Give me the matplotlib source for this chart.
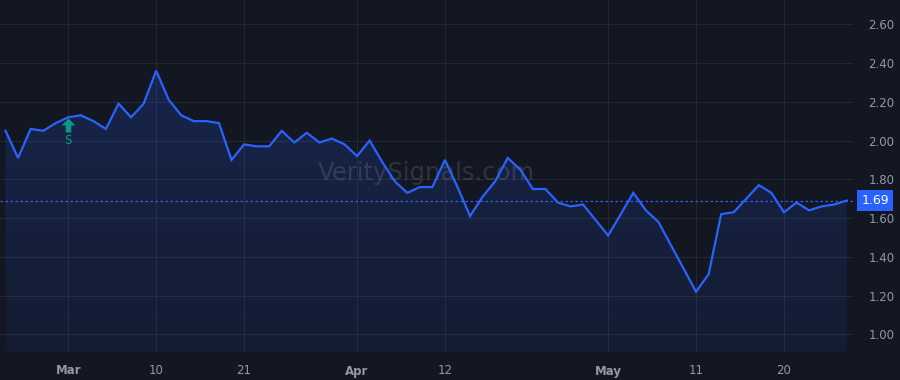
import matplotlib.pyplot as plt
import matplotlib.transforms as mtransforms
from matplotlib.path import Path
import numpy as np

# values, one per session
prices = [2.05, 1.91, 2.06, 2.05, 2.09, 2.12, 2.13, 2.10, 2.06, 2.19,
          2.12, 2.19, 2.36, 2.21, 2.13, 2.10, 2.10, 2.09, 1.90, 1.98,
          1.97, 1.97, 2.05, 1.99, 2.04, 1.99, 2.01, 1.98, 1.92, 2.00,
          1.89, 1.79, 1.73, 1.76, 1.76, 1.90, 1.76, 1.61, 1.71, 1.79,
          1.91, 1.85, 1.75, 1.75, 1.68, 1.66, 1.67, 1.59, 1.51, 1.62,
          1.73, 1.64, 1.58, 1.46, 1.34, 1.22, 1.31, 1.62, 1.63, 1.70,
          1.77, 1.73, 1.63, 1.68, 1.64, 1.66, 1.67, 1.69]
tick_pos = [5, 12, 19, 28, 35, 48, 55, 62]
tick_labels = ['Mar', '10', '21', 'Apr', '12', 'May', '11', '20']
month_labels = ['Mar', 'Apr', 'May']
y_ticks = [1.0, 1.2, 1.4, 1.6, 1.8, 2.0, 2.2, 2.4, 2.6]
signal_idx = 5
last_price = prices[-1]

bg = '#131722'
blue = '#2962ff'
grid = '#242834'
txt = '#9598a1'
green = '#089981'

x = np.arange(len(prices))

fig = plt.figure(figsize=(9, 3.8), dpi=100, facecolor=bg)
ax = fig.add_axes([0, 28 / 380, 853 / 900, 352 / 380], facecolor=bg)
ax.set_xlim(-0.44, 67.5)
ax.set_ylim(0.909, 2.725)

# gradient fill under the line
fill = ax.fill_between(x, prices, 0.909, color='none')
grad = np.zeros((100, 1, 4))
grad[:, 0, :3] = np.array([41, 98, 255]) / 255
grad[:, 0, 3] = np.linspace(0.22, 0.07, 100)
img = ax.imshow(grad, extent=[-0.44, 67.5, 0.909, 2.725], origin='upper',
                aspect='auto', zorder=1)
img.set_clip_path(fill.get_paths()[0], transform=ax.transData)

ax.plot(x, prices, color=blue, lw=1.6, zorder=3, solid_joinstyle='miter')
ax.axhline(last_price, color=blue, lw=0.9, ls=(0, (2, 2)), zorder=2)

# signal marker: up arrow + "S"
arrow = Path([(-1, 0), (0, 1), (1, 0), (0.4, 0), (0.4, -1), (-0.4, -1),
              (-0.4, 0), (-1, 0)], closed=True)
ax.plot([signal_idx], [2.078], marker=arrow, markersize=10, color=green,
        mec='none', zorder=4)
ax.text(signal_idx, 2.0, 'S', color=green, fontsize=8.5, ha='center', va='center')

ax.text(0.5, 0.508, 'VeritySignals.com', transform=ax.transAxes, ha='center',
        va='center', fontsize=17.5, color='#9598a1', alpha=0.22, zorder=2)

ax.set_xticks(tick_pos)
ax.set_xticklabels(tick_labels)
for lab in ax.get_xticklabels():
    if lab.get_text() in month_labels:
        lab.set_fontweight('bold')
ax.set_yticks(y_ticks)
ax.set_yticklabels([f'{v:.2f}' for v in y_ticks])
ax.yaxis.tick_right()
ax.tick_params(axis='both', length=0, colors=txt, labelsize=8.5)
ax.tick_params(axis='y', pad=11)
ax.tick_params(axis='x', pad=9)
ax.grid(True, color=grid, lw=0.8, zorder=0)
ax.set_axisbelow(True)
for s in ax.spines.values():
    s.set_visible(False)

# last price label on the right axis
trans = mtransforms.blended_transform_factory(ax.transAxes, ax.transData)
ax.text(1.0 + 22 / 853, last_price, f'{last_price:.2f}', transform=trans, ha='center',
        va='center', color='white', fontsize=9, zorder=5, clip_on=False,
        bbox=dict(boxstyle='square,pad=0.35', fc=blue, ec='none'))

fig.savefig('out.png', dpi=100, facecolor=bg)
